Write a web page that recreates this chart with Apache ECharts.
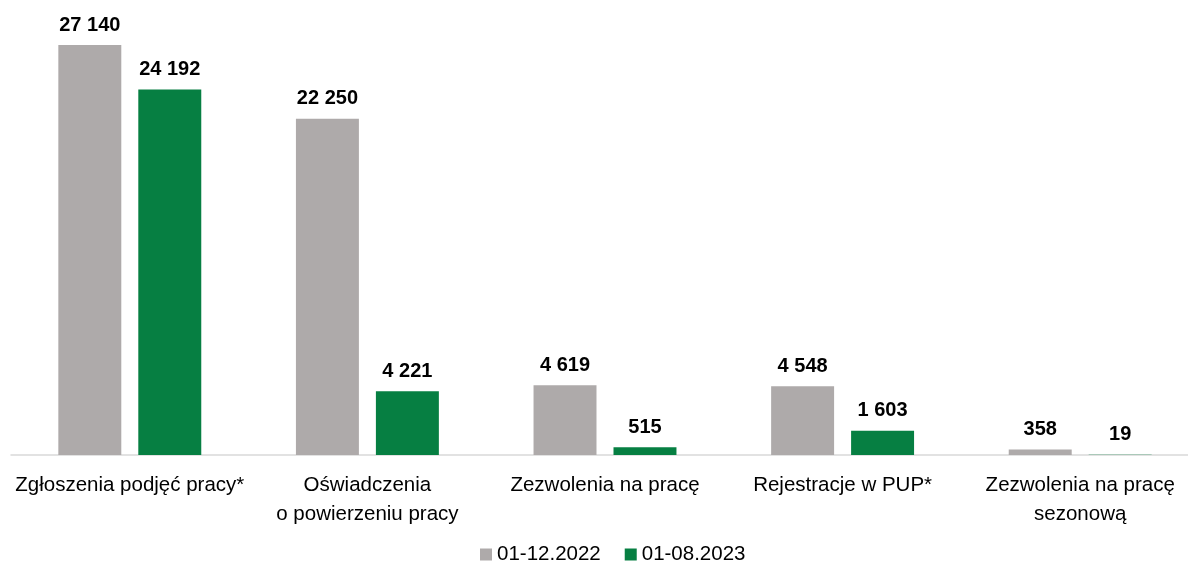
<!DOCTYPE html>
<html>
<head>
<meta charset="utf-8">
<script src="https://cdn.jsdelivr.net/npm/echarts@6/dist/echarts.min.js"></script>
<style>
  html, body { margin: 0; padding: 0; background: #fff; overflow: hidden; }
  #chart { width: 1199px; height: 563px; }
</style>
</head>
<body>
<div id="chart"></div>
<script>
// dane z wykresu
const categories = [
  "Zgłoszenia podjęć pracy*",
  "Oświadczenia\no powierzeniu pracy",
  "Zezwolenia na pracę",
  "Rejestracje w PUP*",
  "Zezwolenia na pracę\nsezonową",
];
const seriesNames = ["01-12.2022", "01-08.2023"];
const values2022 = [27140, 22250, 4619, 4548, 358];
const values2023 = [24192, 4221, 515, 1603, 19];

const FONT = "Liberation Sans";

function fmt(v) {
  return String(v).replace(/\B(?=(\d{3})+(?!\d))/g, " ");
}

const myChart = echarts.init(document.getElementById("chart"));
const labelStyle = {
  show: true,
  position: "top",
  distance: 10,
  fontFamily: FONT,
  fontWeight: "bold",
  fontSize: 20,
  color: "#000",
  formatter: (p) => fmt(p.value),
};

myChart.setOption({
  animation: false,
  textStyle: { fontFamily: FONT },
  grid: { left: 11, right: 0, top: 45, bottom: 108, containLabel: false },
  legend: {
    bottom: -7,
    left: 475,
    itemWidth: 12,
    itemHeight: 12,
    itemGap: 24,
    icon: "rect",
    textStyle: { fontFamily: FONT, fontSize: 20.5, color: "#000" },
    data: seriesNames,
  },
  xAxis: {
    type: "category",
    data: categories,
    axisLine: { lineStyle: { color: "#D9D9D9", width: 1.5 } },
    axisTick: { show: false },
    axisLabel: {
      fontFamily: FONT,
      fontSize: 20.5,
      color: "#000",
      margin: 16,
      lineHeight: 29,
      interval: 0,
    },
  },
  yAxis: {
    type: "value",
    min: 0,
    max: 27140,
    show: false,
    splitLine: { show: false },
  },
  series: [
    {
      name: seriesNames[0],
      type: "bar",
      data: values2022,
      barWidth: "26.5%",
      barGap: "27%",
      itemStyle: { color: "#AEAAAA" },
      label: labelStyle,
    },
    {
      name: seriesNames[1],
      type: "bar",
      data: values2023,
      barWidth: "26.5%",
      itemStyle: { color: "#067F42" },
      label: labelStyle,
    },
  ],
});
</script>
</body>
</html>
